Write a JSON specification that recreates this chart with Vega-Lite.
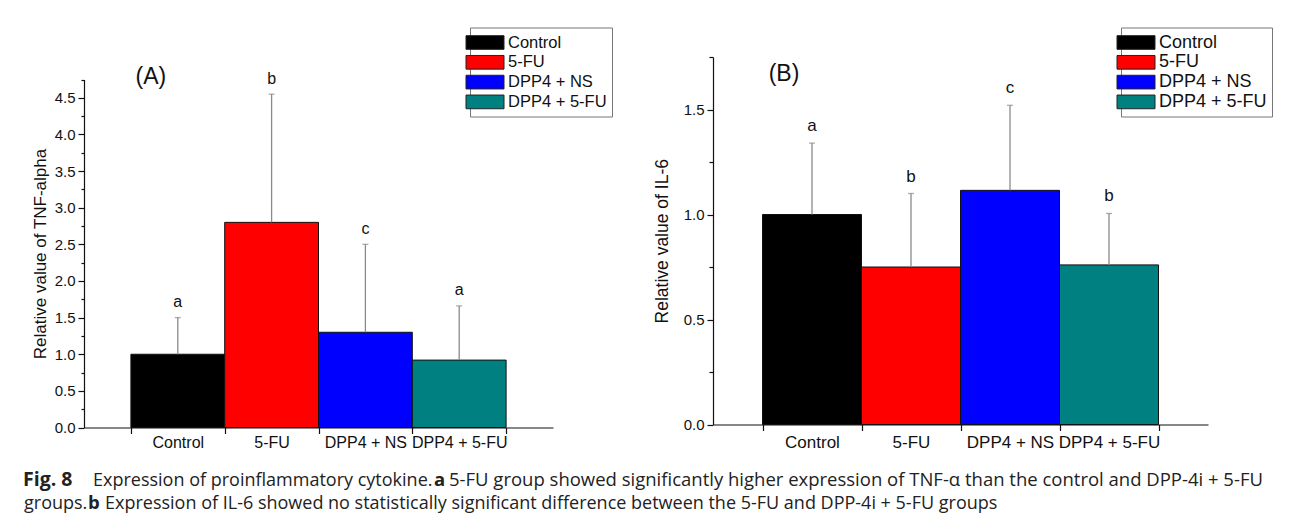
{
  "$schema": "https://vega.github.io/schema/vega-lite/v6.json",
  "background": "white",
  "padding": {"left": 23, "top": 27, "right": 0, "bottom": 0},
  "config": {
    "view": {"stroke": null},
    "font": "Liberation Sans",
    "axis": {"domainColor": "#111", "tickColor": "#111", "labelColor": "#111", "titleColor": "#111", "titleFontWeight": "normal", "labelFont": "Liberation Sans", "titleFont": "Liberation Sans", "grid": false, "domainWidth": 1.2, "tickWidth": 1.2},
    "legend": {"title": null, "orient": "none", "direction": "vertical", "symbolType": "M-2,-0.72H2V0.72H-2Z", "symbolSize": 361, "symbolStrokeColor": "#222", "symbolStrokeWidth": 1, "symbolOpacity": 1, "labelColor": "#111", "labelFont": "Liberation Sans", "labelOffset": 13, "rowPadding": 0.8, "padding": 5, "strokeColor": "#777", "fillColor": "white", "labelLimit": 300}
  },
  "datasets": {
    "tnf": [
      {"group": "Control", "value": 1.0, "upper": 1.5, "letter": "a"},
      {"group": "5-FU", "value": 2.8, "upper": 4.55, "letter": "b"},
      {"group": "DPP4 + NS", "value": 1.3, "upper": 2.5, "letter": "c"},
      {"group": "DPP4 + 5-FU", "value": 0.92, "upper": 1.66, "letter": "a"}
    ],
    "il6": [
      {"group": "Control", "value": 1.0, "upper": 1.34, "letter": "a"},
      {"group": "5-FU", "value": 0.75, "upper": 1.1, "letter": "b"},
      {"group": "DPP4 + NS", "value": 1.115, "upper": 1.52, "letter": "c"},
      {"group": "DPP4 + 5-FU", "value": 0.76, "upper": 1.005, "letter": "b"}
    ],
    "caption": [
      {"seg": "fig", "text": "Fig. 8"},
      {"seg": "r1", "text": "Expression of proinflammatory cytokine."},
      {"seg": "a", "text": "a"},
      {"seg": "r2", "text": "5-FU group showed significantly higher expression of TNF-α than the control and DPP-4i + 5-FU"},
      {"seg": "r3", "text": "groups."},
      {"seg": "b", "text": "b"},
      {"seg": "r4", "text": "Expression of IL-6 showed no statistically significant difference between the 5-FU and DPP-4i + 5-FU groups"}
    ]
  },
  "spacing": 17,
  "vconcat": [
    {
      "spacing": 40,
      "hconcat": [
        {
          "width": 469,
          "height": 370.5,
          "data": {"name": "tnf"},
          "encoding": {
            "x": {"field": "group", "type": "nominal", "sort": null,
              "scale": {"paddingInner": 0, "paddingOuter": 0.5},
              "axis": {"title": null, "tickBand": "extent", "tickSize": 6, "labelPadding": 1, "labelFontSize": 16, "labelAngle": 0}}
          },
          "layer": [
            {
              "mark": {"type": "bar", "stroke": "#111", "strokeWidth": 1},
              "encoding": {
                "y": {"field": "value", "type": "quantitative",
                  "scale": {"domain": [0, 4.75], "nice": false, "zero": true, "range": [370.5, 22.5]},
                  "axis": {"title": "Relative value of TNF-alpha", "titleFontSize": 17, "titlePadding": 5,
                    "values": [0, 0.5, 1, 1.5, 2, 2.5, 3, 3.5, 4, 4.5],
                    "format": ".1f", "labelFontSize": 15, "labelPadding": 3, "labelOverlap": false, "labelFlush": false,
                    "tickSize": 6}},
                "color": {"field": "group", "type": "nominal", "sort": null,
                  "scale": {"domain": ["Control", "5-FU", "DPP4 + NS", "DPP4 + 5-FU"], "range": ["#000000", "#ff0000", "#0000ff", "#008080"]},
                  "legend": {"legendX": 386, "legendY": -29.5, "labelFontSize": 16.5}}
              }
            },
            {
              "mark": {"type": "rule", "color": "#8a8a8a", "strokeWidth": 1.3},
              "encoding": {
                "y": {"field": "value", "type": "quantitative",
                  "axis": {"title": null, "orient": "left", "values": [0.25, 0.75, 1.25, 1.75, 2.25, 2.75, 3.25, 3.75, 4.25, 4.75], "labels": false, "domain": false, "tickSize": 3}},
                "y2": {"field": "upper"}}
            },
            {
              "mark": {"type": "tick", "color": "#8a8a8a", "size": 6, "thickness": 1.3},
              "encoding": {"y": {"field": "upper", "type": "quantitative", "axis": null}}
            },
            {
              "mark": {"type": "text", "fontSize": 16, "baseline": "alphabetic", "dy": -10.5, "color": "#111"},
              "encoding": {"y": {"field": "upper", "type": "quantitative", "axis": null}, "text": {"field": "letter"}}
            },
            {
              "data": {"values": [{"label": "(A)"}]},
              "mark": {"type": "text", "fontSize": 23, "baseline": "middle", "dx": -27, "color": "#111"},
              "encoding": {"x": {"datum": "Control"}, "y": {"datum": 4.79, "axis": null}, "text": {"field": "label"}}
            }
          ],
          "resolve": {"axis": {"y": "independent"}}
        },
        {
          "width": 495,
          "height": 367.5,
          "data": {"name": "il6"},
          "encoding": {
            "x": {"field": "group", "type": "nominal", "sort": null,
              "scale": {"paddingInner": 0, "paddingOuter": 0.5},
              "axis": {"title": null, "tickBand": "extent", "tickSize": 6, "labelPadding": 4, "labelFontSize": 17, "labelAngle": 0}}
          },
          "layer": [
            {
              "mark": {"type": "bar", "stroke": "#111", "strokeWidth": 1},
              "encoding": {
                "y": {"field": "value", "type": "quantitative",
                  "scale": {"domain": [0, 1.75], "nice": false, "zero": true},
                  "axis": {"title": "Relative value of IL-6", "titleFontSize": 17.5, "titlePadding": 12,
                    "values": [0, 0.5, 1, 1.5],
                    "format": ".1f", "labelFontSize": 15, "labelPadding": 3, "labelOverlap": false, "labelFlush": false,
                    "tickSize": 6}},
                "color": {"field": "group", "type": "nominal", "sort": null,
                  "scale": {"domain": ["Control", "5-FU", "DPP4 + NS", "DPP4 + 5-FU"], "range": ["#000000", "#ff0000", "#0000ff", "#008080"]},
                  "legend": {"legendX": 408, "legendY": -29.5, "labelFontSize": 18}}
              }
            },
            {
              "mark": {"type": "rule", "color": "#8a8a8a", "strokeWidth": 1.3},
              "encoding": {
                "y": {"field": "value", "type": "quantitative",
                  "axis": {"title": null, "orient": "left", "values": [0.25, 0.75, 1.25, 1.75], "labels": false, "domain": false, "tickSize": 4}},
                "y2": {"field": "upper"}}
            },
            {
              "mark": {"type": "tick", "color": "#8a8a8a", "size": 6, "thickness": 1.3},
              "encoding": {"y": {"field": "upper", "type": "quantitative", "axis": null}}
            },
            {
              "mark": {"type": "text", "fontSize": 17, "baseline": "alphabetic", "dy": -12, "color": "#111"},
              "encoding": {"y": {"field": "upper", "type": "quantitative", "axis": null}, "text": {"field": "letter"}}
            },
            {
              "data": {"values": [{"label": "(B)"}]},
              "mark": {"type": "text", "fontSize": 23, "baseline": "middle", "dx": -28, "color": "#111"},
              "encoding": {"x": {"datum": "Control"}, "y": {"datum": 1.667, "axis": null}, "text": {"field": "label"}}
            }
          ],
          "resolve": {"axis": {"y": "independent"}}
        }
      ],
      "resolve": {"scale": {"color": "independent"}, "legend": {"color": "independent"}}
    },
    {
      "width": 1180,
      "height": 45,
      "data": {"name": "caption"},
      "layer": [
        {"transform": [{"filter": "datum.seg === 'fig'"}], "mark": {"type": "text", "align": "left", "baseline": "alphabetic", "font": "Open Sans", "fontSize": 19.5, "fontWeight": "bold", "color": "#222", "x": -61, "y": 18}, "encoding": {"text": {"field": "text"}}},
        {"transform": [{"filter": "datum.seg === 'r1'"}], "mark": {"type": "text", "align": "left", "baseline": "alphabetic", "font": "Open Sans", "fontSize": 18, "color": "#222", "x": 9, "y": 18}, "encoding": {"text": {"field": "text"}}},
        {"transform": [{"filter": "datum.seg === 'a'"}], "mark": {"type": "text", "align": "left", "baseline": "alphabetic", "font": "Open Sans", "fontSize": 18.5, "fontWeight": "bold", "color": "#222", "x": 350, "y": 18}, "encoding": {"text": {"field": "text"}}},
        {"transform": [{"filter": "datum.seg === 'r2'"}], "mark": {"type": "text", "align": "left", "baseline": "alphabetic", "font": "Open Sans", "fontSize": 18.5, "color": "#222", "x": 365, "y": 18}, "encoding": {"text": {"field": "text"}}},
        {"transform": [{"filter": "datum.seg === 'r3'"}], "mark": {"type": "text", "align": "left", "baseline": "alphabetic", "font": "Open Sans", "fontSize": 18, "color": "#222", "x": -60, "y": 41}, "encoding": {"text": {"field": "text"}}},
        {"transform": [{"filter": "datum.seg === 'b'"}], "mark": {"type": "text", "align": "left", "baseline": "alphabetic", "font": "Open Sans", "fontSize": 18.5, "fontWeight": "bold", "color": "#222", "x": 4, "y": 41}, "encoding": {"text": {"field": "text"}}},
        {"transform": [{"filter": "datum.seg === 'r4'"}], "mark": {"type": "text", "align": "left", "baseline": "alphabetic", "font": "Open Sans", "fontSize": 18, "color": "#222", "x": 21, "y": 41}, "encoding": {"text": {"field": "text"}}}
      ]
    }
  ]
}
